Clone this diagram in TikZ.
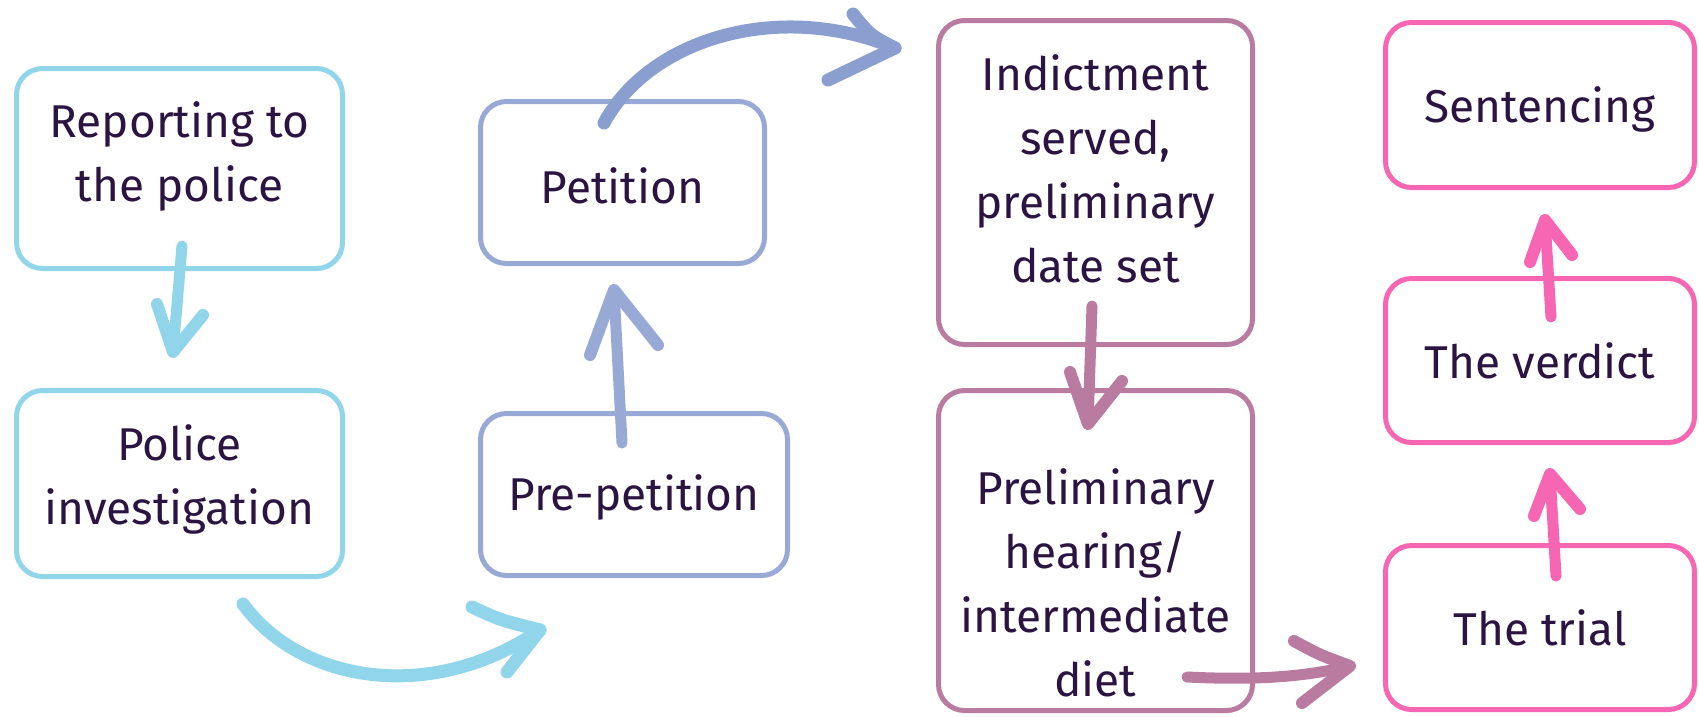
\documentclass[tikz,border=0pt]{standalone}
\usepackage{fontspec}
\setmainfont{Fira Sans}
\usetikzlibrary{calc}
\definecolor{cblue}{HTML}{90D5EA}
\definecolor{clav}{HTML}{98A9D6}
\definecolor{clavd}{HTML}{8A9ED0}
\definecolor{cmauve}{HTML}{B97B9F}
\definecolor{cpink}{HTML}{F766B2}
\definecolor{ctext}{HTML}{2B1441}
\begin{document}
\begin{tikzpicture}[x=1pt,y=-1pt,
  stagebox/.style={draw=#1,line width=5pt,rounded corners=26pt,inner sep=0pt,fill=white},
  stagetext/.style={text=ctext,align=center,font=\fontsize{46}{64}\selectfont,inner sep=0pt},
  brush/.style={draw=#1,line width=11pt,line cap=round,line join=round},
  barb/.style={draw=#1,line width=12pt,line cap=round,line join=round}]
\useasboundingbox[fill=white] (0,0) rectangle (1699,716);
% boxes
\node[stagebox=cblue,minimum width=326pt,minimum height=200pt] (b1) at (179.5,168.5) {};
\node[stagebox=cblue,minimum width=326pt,minimum height=186pt] (b2) at (179.5,483.5) {};
\node[stagebox=clav,minimum width=284pt,minimum height=162pt] (b3) at (622.5,182.5) {};
\node[stagebox=clav,minimum width=307pt,minimum height=162pt] (b4) at (634,494.5) {};
\node[stagebox=cmauve,minimum width=314pt,minimum height=324pt] (b5) at (1095.5,182.5) {};
\node[stagebox=cmauve,minimum width=314pt,minimum height=320pt] (b6) at (1095.5,550.5) {};
\node[stagebox=cpink,minimum width=309pt,minimum height=165pt] (b7) at (1540,105) {};
\node[stagebox=cpink,minimum width=309pt,minimum height=164pt] (b8) at (1540,360.5) {};
\node[stagebox=cpink,minimum width=309pt,minimum height=164pt] (b9) at (1540,627.5) {};
% texts
\node[stagetext] (t1) at ($(b1.center)+(0,-12)$) {Reporting to\\the police};
\node[stagetext] (t2) at ($(b2.center)+(0,-4)$) {Police\\investigation};
\node[stagetext] (t3) at ($(b3.center)+(0,3)$) {Petition};
\node[stagetext] (t4) at ($(b4.center)+(0,3)$) {Pre-petition};
\node[stagetext] (t5) at ($(b5.center)+(0,-14)$) {Indictment\\served,\\preliminary\\date set};
\node[stagetext] (t6) at ($(b6.center)+(0,32)$) {Preliminary\\hearing/\\intermediate\\diet};
\node[stagetext] (t7) at ($(b7.center)+(0,4)$) {Sentencing};
\node[stagetext] (t8) at ($(b8.center)+(0,0)$) {The verdict};
\node[stagetext] (t9) at ($(b9.center)+(0,0)$) {The trial};
% arrow coordinates
\coordinate (a1s) at (182,246); \coordinate (a1t) at (173,352);
\coordinate (a1l) at (157,304); \coordinate (a1r) at (203,315);
\coordinate (a2s) at (243,604); \coordinate (a2t) at (540,630);
\coordinate (a2u) at (472,607); \coordinate (a2d) at (507,672);
\coordinate (a3s) at (604,123); \coordinate (a3t) at (895,48);
\coordinate (a3u) at (853,14); \coordinate (a3d) at (828,80);
\coordinate (a4s) at (622,443); \coordinate (a4t) at (614,290);
\coordinate (a4l) at (590,355); \coordinate (a4r) at (658,345);
\coordinate (a5s) at (1092,306); \coordinate (a5t) at (1088,424);
\coordinate (a5l) at (1070,372); \coordinate (a5r) at (1122,381);
\coordinate (a6s) at (1187,677); \coordinate (a6t) at (1350,666);
\coordinate (a6u) at (1294,641); \coordinate (a6d) at (1302,703);
\coordinate (a7s) at (1551,317); \coordinate (a7t) at (1545,220);
\coordinate (a7l) at (1530,262); \coordinate (a7r) at (1572,255);
\coordinate (a8s) at (1556,576); \coordinate (a8t) at (1550,474);
\coordinate (a8l) at (1534,516); \coordinate (a8r) at (1580,509);
% arrows
\draw[brush=cblue] (a1s) -- (a1t);
\draw[barb=cblue] (a1l) -- (a1t) -- (a1r);
\draw[brush=cblue,line width=13pt] (a2s) .. controls (300,682) and (430,705) .. (a2t);
\draw[barb=cblue,line width=13pt] (a2u) .. controls (500,620) .. (a2t) -- (a2d);
\draw[brush=clavd,line width=13pt] (a3s) .. controls (650,38) and (780,0) .. (a3t);
\draw[barb=clavd,line width=13pt] (a3u) .. controls (870,35) .. (a3t) -- (a3d);
\draw[brush=clav] (a4s) -- (a4t);
\draw[barb=clav] (a4l) -- (a4t) -- (a4r);
\draw[brush=cmauve] (a5s) -- (a5t);
\draw[barb=cmauve] (a5l) -- (a5t) -- (a5r);
\draw[brush=cmauve] (a6s) .. controls (1250,680) and (1300,678) .. (a6t);
\draw[barb=cmauve] (a6u) .. controls (1320,655) .. (a6t) -- (a6d);
\draw[brush=cpink] (a7s) -- (a7t);
\draw[barb=cpink] (a7l) -- (a7t) -- (a7r);
\draw[brush=cpink] (a8s) -- (a8t);
\draw[barb=cpink] (a8l) -- (a8t) -- (a8r);
\end{tikzpicture}
\end{document}
